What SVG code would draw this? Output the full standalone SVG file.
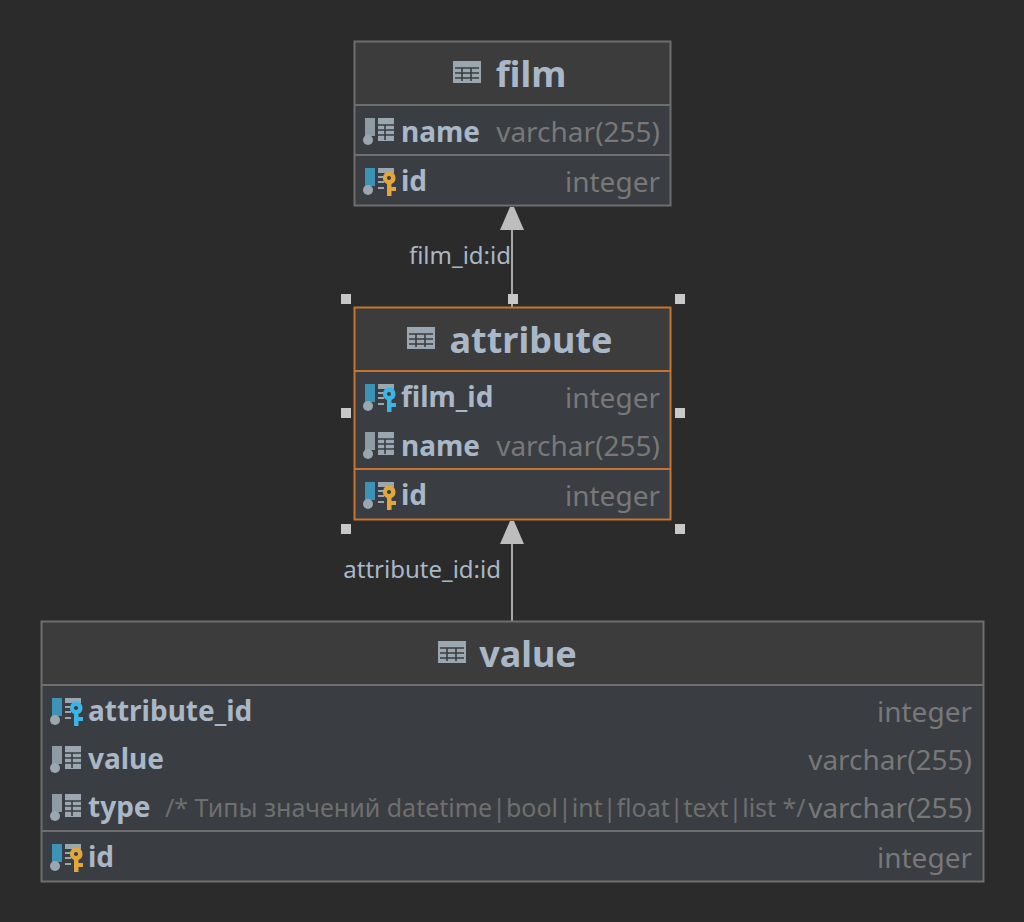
<svg xmlns="http://www.w3.org/2000/svg" xmlns:xlink="http://www.w3.org/1999/xlink" width="1024" height="922" viewBox="0 0 1024 922">
<style>
text{font-family:"Noto Sans","Open Sans","DejaVu Sans",sans-serif}
.title{font-size:36px;font-weight:700;fill:#a9b7c6;text-anchor:middle}
.name{font-size:28px;font-weight:700;fill:#a9b7c6}
.type{font-size:28px;fill:#787878;text-anchor:end}
.cmt{font-size:25px;fill:#6f6f6f}
.lbl{font-size:24px;fill:#a9b7c6;text-anchor:end}
.head{fill:#3c3c3c}.body{fill:#3a3d41}
.bd{fill:none;stroke:#6e6e6e;stroke-width:2}
.sel{fill:none;stroke:#c5752f;stroke-width:2}
.dv{stroke:#6e6e6e;stroke-width:2}.dvs{stroke:#c5752f;stroke-width:2}
.h{fill:#c8c8c8}
.conn{stroke:#a8a8a8;stroke-width:2;fill:none}
.tip{fill:#bdbdbd}
</style>
<defs>
<g id="tbl"><path d="M0 0h28v22H0z" fill="#9aa7b0"/><path d="M2 7h24M2 12h24M2 17h24M9 7v13M18 7v13" stroke="#3c3c3c" stroke-width="1.6" fill="none"/></g>
<g id="bar"><circle cx="4" cy="22" r="5" fill="#9aa7b0"/></g>
<g id="col"><rect x="1" y="0" width="10" height="18" fill="#8f9ba3"/><use href="#bar"/><path d="M14 0h16v23H14z" fill="#9aa7b0"/><path d="M14 7h16M14 12h16M14 17h16M21 7v15" stroke="#3a3d41" stroke-width="1.6" fill="none"/></g>
<g id="pk"><rect x="1" y="0" width="10" height="18" fill="#3d93b5"/><use href="#bar"/><path d="M14 0h16v5H14z" fill="#9aa7b0"/><path d="M14 9h6M14 14h6M14 20h6" stroke="#9aa7b0" stroke-width="2"/></g>
<path id="key" d="M25 3.500a6.500 6.500 0 0 1 2.500 12.500V19H32v4h-4.500v5H23V16a6.500 6.500 0 0 1 2-12.500zM25 8a2 2 0 1 0 .01 0z" fill-rule="evenodd"/>
</defs>
<rect width="1024" height="922" fill="#2b2b2b"/>

<g id="connectors">
<line class="conn" x1="512" y1="307" x2="512" y2="228"/><path class="tip" d="M510 207h4l10 23h-24z"/>
<text class="lbl" x="511" y="264">film_id:id</text>
<line class="conn" x1="512" y1="621" x2="512" y2="542"/><path class="tip" d="M510 521h4l10 23h-24z"/>
<text class="lbl" x="501" y="578">attribute_id:id</text>
</g>

<g id="film">
<rect class="body" x="355" y="42" width="315" height="163"/><rect class="head" x="355" y="42" width="315" height="62"/>
<rect class="bd" x="354.500" y="41.500" width="316" height="164"/>
<line class="dv" x1="355" x2="670" y1="105" y2="105"/><line class="dv" x1="355" x2="670" y1="155" y2="155"/>
<use href="#tbl" x="453" y="61"/><text class="title" x="531" y="87">film</text>
<use href="#col" x="364" y="118"/><text class="name" x="401" y="142">name</text><text class="type" x="660" y="142">varchar(255)</text>
<use href="#pk" x="364" y="168"/><use href="#key" x="364" y="168" fill="#e0a63f"/><text class="name" x="401" y="191">id</text><text class="type" x="660" y="192">integer</text>
</g>

<g id="attribute">
<rect class="body" x="355" y="308" width="315" height="211"/><rect class="head" x="355" y="308" width="315" height="62"/>
<rect class="sel" x="354.500" y="307.500" width="316" height="212"/>
<line class="dvs" x1="355" x2="670" y1="371" y2="371"/><line class="dvs" x1="355" x2="670" y1="469" y2="469"/>
<use href="#tbl" x="407" y="327"/><text class="title" x="531" y="353">attribute</text>
<use href="#pk" x="364" y="384"/><use href="#key" x="364" y="384" fill="#3cb4e6"/><text class="name" x="401" y="407">film_id</text><text class="type" x="660" y="408">integer</text>
<use href="#col" x="364" y="432"/><text class="name" x="401" y="456">name</text><text class="type" x="660" y="456">varchar(255)</text>
<use href="#pk" x="364" y="482"/><use href="#key" x="364" y="482" fill="#e0a63f"/><text class="name" x="401" y="505">id</text><text class="type" x="660" y="506">integer</text>
</g>

<g id="selection-handles">
<rect class="h" x="341" y="294" width="10" height="10"/><rect class="h" x="508" y="294" width="10" height="10"/><rect class="h" x="675" y="294" width="10" height="10"/>
<rect class="h" x="341" y="408" width="10" height="10"/><rect class="h" x="675" y="408" width="10" height="10"/>
<rect class="h" x="341" y="524" width="10" height="10"/><rect class="h" x="675" y="524" width="10" height="10"/>
</g>

<g id="value">
<rect class="body" x="42" y="622" width="941" height="259"/><rect class="head" x="42" y="622" width="941" height="62"/>
<rect class="bd" x="41.500" y="621.500" width="942" height="260"/>
<line class="dv" x1="42" x2="983" y1="685" y2="685"/><line class="dv" x1="42" x2="983" y1="831" y2="831"/>
<use href="#tbl" x="438" y="641"/><text class="title" x="528" y="667">value</text>
<use href="#pk" x="51" y="698"/><use href="#key" x="51" y="698" fill="#3cb4e6"/><text class="name" x="88" y="721">attribute_id</text><text class="type" x="972" y="722">integer</text>
<use href="#col" x="51" y="746"/><text class="name" x="88" y="769">value</text><text class="type" x="972" y="770">varchar(255)</text>
<use href="#col" x="51" y="794"/><text class="name" x="88" y="817">type</text><text class="cmt" x="165" y="817">/* Типы значений datetime|bool|int|float|text|list */</text><text class="type" x="972" y="818">varchar(255)</text>
<use href="#pk" x="51" y="844"/><use href="#key" x="51" y="844" fill="#e0a63f"/><text class="name" x="88" y="867">id</text><text class="type" x="972" y="868">integer</text>
</g>
</svg>
